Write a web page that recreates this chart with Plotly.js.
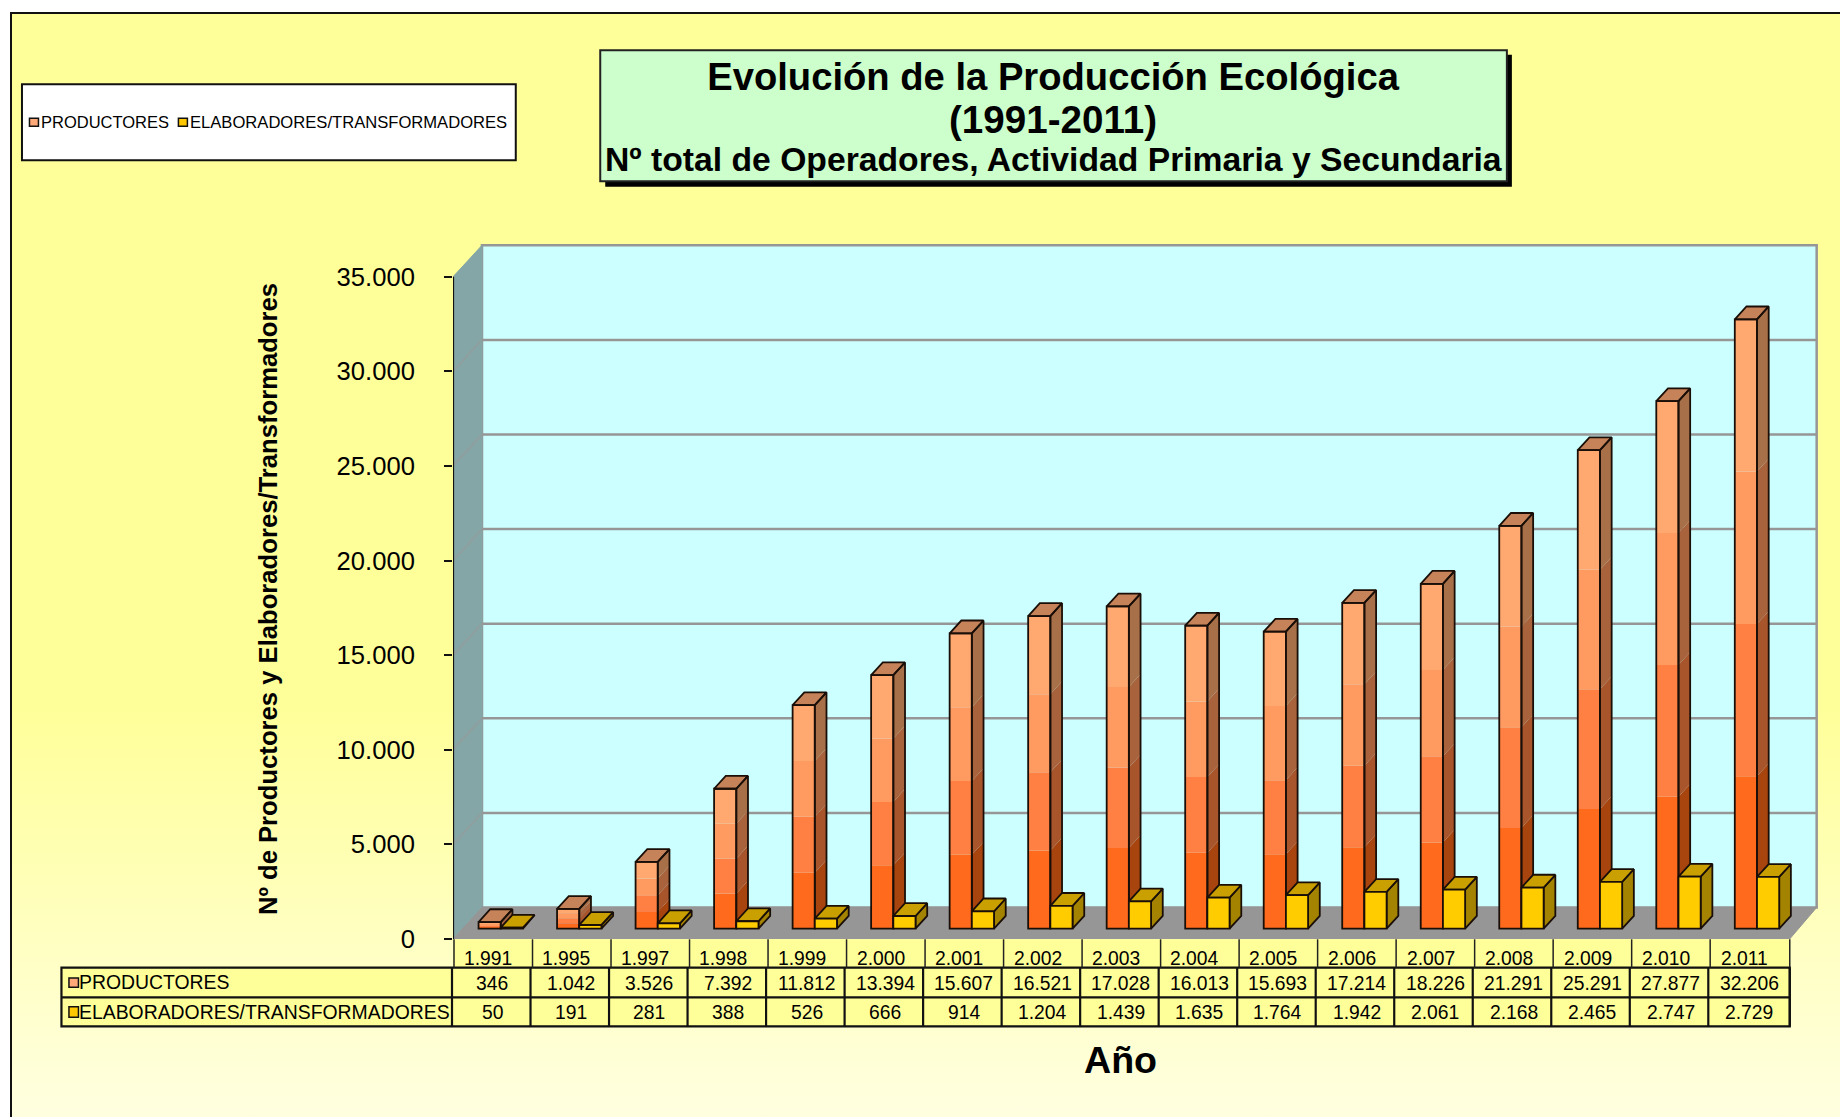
<!DOCTYPE html>
<html><head><meta charset="utf-8">
<script src="https://cdn.plot.ly/plotly-3.0.1.min.js"></script>
<style>
html,body{margin:0;padding:0;background:#fff;width:1840px;height:1117px;overflow:hidden}
#frame{position:absolute;left:10px;top:12px;width:1840px;height:1117px;border:2px solid #111;box-sizing:border-box;
background:linear-gradient(#FFFF99 0%,#FFFF99 62%,#FFFFE2 100%)}
#chart{position:absolute;left:0;top:0;width:1840px;height:1117px}
</style></head><body>
<div id="frame"></div><div id="chart"></div>
<script>
const years = ['1.991','1.995','1.997','1.998','1.999','2.000','2.001','2.002','2.003','2.004','2.005','2.006','2.007','2.008','2.009','2.010','2.011'];
const productores = [346,1042,3526,7392,11812,13394,15607,16521,17028,16013,15693,17214,18226,21291,25291,27877,32206];
const elaboradores = [50,191,281,388,526,666,914,1204,1439,1635,1764,1942,2061,2168,2465,2747,2729];
const yTicks = [0,5000,10000,15000,20000,25000,30000,35000];
const nameA = 'PRODUCTORES', nameB = 'ELABORADORES/TRANSFORMADORES';
const titleLines = ['Evolución de la Producción Ecológica','(1991-2011)','Nº total de Operadores, Actividad Primaria y Secundaria'];
const yTitle = 'Nº de Productores y Elaboradores/Transformadores', xTitle = 'Año';

// plot frame: front plane of the 3-D box
const L=452.7, B=938.7, PXCAT=78.66, PXVAL=661.7/35000;
const XMAX=17.5, YMAX=37000, W=XMAX*PXCAT, H=YMAX*PXVAL, T=B-H;
const dxU=px=>px/PXCAT, dyU=px=>px/PXVAL;
const px=x=>(x-L)/W, py=y=>(B-y)/H;      // page pixel -> paper fraction
const FONT='"Liberation Sans", Arial, sans-serif';

// depth of the box and of the bars
const wallLeftDX=dxU(29), wallRightDX=dxU(27), wallDY=dyU(31.5);
const floorV=dyU(10.4), barW=dxU(22.2), barDX=dxU(11.7), barDY=dyU(12.8);
const pitch=0.99857, firstA=0.466, gapB=dxU(22.2);
const N=years.length;
const xA=years.map((_,i)=>firstA+i*pitch), xB=xA.map(v=>v+gapB);

const bandFront=['#FF6A1C','#FF8042','#FF9A60','#FFA970'];
const bandSide=['#A8450F','#A8552C','#A8623C','#A87048'];
const topA='#C6835A', topB='#C9A000', frontB='#FFCC00', sideB='#A38300';
const STROKE='#1a0f08', LW=1.8;

const traces=[];
// front bands of orange bars
for(let k=0;k<4;k++){
  traces.push({type:'bar',x:xA,y:productores.map(v=>v/4),base:productores.map(v=>floorV+v*k/4),width:barW,
    marker:{color:bandFront[k],line:{width:0}},hoverinfo:'skip',showlegend:false,zorder:1});
}
function poly(xs,vals,fn){const X=[],Y=[];xs.forEach((x,i)=>{fn(x,vals[i]).forEach(p=>{X.push(p[0]);Y.push(p[1]);});X.push(null);Y.push(null);});return {x:X,y:Y};}
// side bands of orange bars
for(let k=0;k<4;k++){
  const s=poly(xA,productores,(x,v)=>{const r=x+barW/2,lo=floorV+v*k/4,hi=floorV+v*(k+1)/4;
    return [[r,lo],[r+barDX,lo+barDY],[r+barDX,hi+barDY],[r,hi],[r,lo]];});
  traces.push({type:'scatter',mode:'lines',x:s.x,y:s.y,fill:'toself',fillcolor:bandSide[k],line:{width:0},hoverinfo:'skip',showlegend:false,cliponaxis:false,zorder:2});
}
function topFace(xs,vals){return poly(xs,vals,(x,v)=>{const l=x-barW/2,r=x+barW/2,h=floorV+v;return [[l,h],[r,h],[r+barDX,h+barDY],[l+barDX,h+barDY],[l,h]];});}
function sideFace(xs,vals){return poly(xs,vals,(x,v)=>{const r=x+barW/2,h=floorV+v;return [[r,floorV],[r+barDX,floorV+barDY],[r+barDX,h+barDY],[r,h],[r,floorV]];});}
const ta=topFace(xA,productores), sa=sideFace(xA,productores);
traces.push({type:'scatter',mode:'lines',x:ta.x,y:ta.y,fill:'toself',fillcolor:topA,line:{width:LW,color:STROKE},hoverinfo:'skip',showlegend:false,cliponaxis:false,zorder:3});
traces.push({type:'scatter',mode:'lines',x:sa.x,y:sa.y,line:{width:LW,color:STROKE},hoverinfo:'skip',showlegend:false,cliponaxis:false,zorder:3});
// outline of the orange bars carries the series itself
traces.push({type:'bar',name:nameA,x:xA,y:productores,base:productores.map(()=>floorV),width:barW,textposition:'none',
  marker:{color:'rgba(0,0,0,0)',line:{width:LW,color:STROKE}},customdata:years,hovertemplate:'%{customdata}: %{y:,d}<extra>'+nameA+'</extra>',showlegend:false,zorder:4});
// yellow bars
const sb=sideFace(xB,elaboradores), tb=topFace(xB,elaboradores);
traces.push({type:'scatter',mode:'lines',x:sb.x,y:sb.y,fill:'toself',fillcolor:sideB,line:{width:LW,color:STROKE},hoverinfo:'skip',showlegend:false,cliponaxis:false,zorder:5});
traces.push({type:'scatter',mode:'lines',x:tb.x,y:tb.y,fill:'toself',fillcolor:topB,line:{width:LW,color:STROKE},hoverinfo:'skip',showlegend:false,cliponaxis:false,zorder:5});
traces.push({type:'bar',name:nameB,x:xB,y:elaboradores,base:elaboradores.map(()=>floorV),width:barW,textposition:'none',
  marker:{color:frontB,line:{width:LW,color:STROKE}},customdata:years,hovertemplate:'%{customdata}: %{y:,d}<extra>'+nameB+'</extra>',showlegend:false,zorder:6});

// ---- walls
const xb0=wallLeftDX, xb1=N+wallRightDX, GRID='#969696';
const shapes=[];
const dpath=(pts,fill,lw,col,layer)=>({type:'path',xref:'x',yref:'y',layer:layer||'below',path:'M'+pts.map(p=>p[0]+','+p[1]).join(' L')+' Z',fillcolor:fill,line:{width:lw,color:col}});
const dline=(x0,y0,x1,y1,lw,col,layer)=>({type:'line',xref:'x',yref:'y',layer:layer||'below',x0,y0,x1,y1,line:{width:lw,color:col}});
shapes.push(dpath([[xb0,wallDY],[xb1,wallDY],[xb1,35000+wallDY],[xb0,35000+wallDY]],'#CCFFFF',2.5,GRID));
shapes.push(dpath([[0,0],[xb0,wallDY],[xb0,35000+wallDY],[0,35000]],'#85A6A6',1,'#85A6A6'));
shapes.push(dpath([[0,0],[N,0],[xb1,wallDY],[xb0,wallDY]],'#969696',1,'#969696'));
yTicks.slice(1,-1).forEach(v=>{
  shapes.push(dline(xb0,v+wallDY,xb1,v+wallDY,2.5,GRID));
  shapes.push(dline(0,v,xb0,v+wallDY,2,'#8F9F9F'));
});
shapes.push(dline(0,0,0,35000,2.2,'#111','above'));

// ---- page furniture in pixels
const prect=(x0,y0,x1,y1,fill,lw,col)=>({type:'rect',xref:'paper',yref:'paper',layer:'above',x0:px(x0),x1:px(x1),y0:py(y1),y1:py(y0),fillcolor:fill,line:{width:lw,color:col||'#111'}});
const pline=(x0,y0,x1,y1,lw,col)=>({type:'line',xref:'paper',yref:'paper',layer:'above',x0:px(x0),x1:px(x1),y0:py(y0),y1:py(y1),line:{width:lw,color:col||'#111'}});
const ann=[];
const ptext=(t,x,y,size,opts)=>ann.push(Object.assign({xref:'paper',yref:'paper',x:px(x),y:py(y),text:t,showarrow:false,xanchor:'center',yanchor:'middle',borderpad:0,font:{family:FONT,size:size,color:'#000'}},opts||{}));

// title box
shapes.push(prect(605,55,1512,187,'#000',0));
shapes.push(prect(600,50.5,1507,181.5,'#CCFFCC',2,'#222'));
ptext('<b>'+titleLines[1]+'</b>',1053,120,38.6);
ptext('<b>'+titleLines[2]+'</b>',1053,159.5,33.7);

// axis titles, placed where the reference has them
ptext('<b>'+yTitle+'</b>',267.6,599,25.65,{textangle:-90});
ptext('<b>'+xTitle+'</b>',1120.7,1060,37.6);

// legend box
shapes.push(prect(21.5,84.5,515.5,160.5,'#fff',2));
shapes.push(prect(29,118.5,38,126.5,'#FFA878',1.5));
shapes.push(prect(178,118.5,187,126.5,'#FFC800',1.5));
ptext(nameA,39.5,122.5,16.5,{xanchor:'left'});
ptext(nameB,189,122.5,16.6,{xanchor:'left'});

// data table
const C0=452.7, fmt=v=>String(v).replace(/\B(?=(\d{3})+$)/g,'.');
shapes.push(prect(C0,939,1790,967.3,'#FFFF99',0));
shapes.push(prect(61,967.3,1790,1026,'#FFFF99',2.2));
shapes.push(pline(61,997,1790,997,2.2));
for(let i=0;i<=N;i++){
  const xh=C0+1+i*78.66*(i===N?1:0.9985), xd=(i===N)?1790:C0-1+i*78.55;
  shapes.push(pline(Math.min(xh,1790),939,Math.min(xh,1790),967.3,1.5,'#222'));
  shapes.push(pline(xd,967.3,xd,1026,2.2));
}
years.forEach((y,i)=>{
  const c=C0+(i+.5)*78.6;
  ptext(y,c-4.5,958,19.3);
  ptext(fmt(productores[i]),c,983,19.3);
  ptext(fmt(elaboradores[i]),c,1012,19.3);
});
shapes.push(prect(68.5,977.7,78,987,'#FFA878',1.5));
shapes.push(prect(68.5,1006.5,78,1017,'#FFC800',1.5));
ptext(nameA,77.5,982,19.4,{xanchor:'left'});
ptext(nameB,77.5,1011.5,19.4,{xanchor:'left'});

const layout={
  width:1840,height:1117,autosize:false,
  margin:{l:L,r:1840-L-W,t:T,b:1117-B,pad:0},
  paper_bgcolor:'rgba(0,0,0,0)',plot_bgcolor:'rgba(0,0,0,0)',
  separators:',.',barmode:'overlay',showlegend:false,hovermode:'closest',
  font:{family:FONT,color:'#000'},
  title:{text:'<b>'+titleLines[0]+'</b>',xref:'paper',yref:'container',x:px(1053),y:1-76.5/1117,xanchor:'center',yanchor:'middle',font:{family:FONT,size:38.2,color:'#000'},pad:{t:0,b:0,l:0,r:0}},
  xaxis:{range:[0,XMAX],showgrid:false,zeroline:false,showline:false,ticks:'',showticklabels:false,fixedrange:true},
  yaxis:{range:[0,YMAX],showgrid:false,zeroline:false,showline:false,tickmode:'array',tickvals:yTicks,tickformat:',d',
    ticks:'outside',ticklen:8,tickwidth:2,tickcolor:'#111',tickfont:{family:FONT,size:25.6,color:'#000'},ticklabelstandoff:24,fixedrange:true},
  shapes:shapes,annotations:ann
};
Plotly.newPlot('chart',traces,layout,{displayModeBar:false,responsive:false});
</script></body></html>
